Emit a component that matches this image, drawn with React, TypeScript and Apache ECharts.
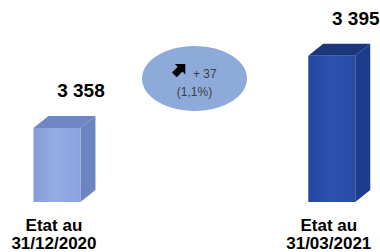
import React, { useEffect, useRef } from "react";
import * as echarts from "echarts";

const categories = ["Etat au\n31/12/2020", "Etat au\n31/03/2021"];
const values = [3358, 3395];
const positions = [0, 1];
const Y_MIN = 3320;
const Y_MAX = 3400;

const FONT = "'Liberation Sans', Arial, sans-serif";

const palettes = [
  { front: ["#849dd8", "#93ace4", "#8ba4de"], top: "#6f87c3", side: "#6c84c0" },
  { front: ["#2346a0", "#2b52ae", "#284ca6"], top: "#1b3679", side: "#1e3c8c" },
];

const fmt = (n: number) => String(n).replace(/\B(?=(\d{3})+(?!\d))/g, " ");

const diff = values[1] - values[0];
const pct = ((diff / values[0]) * 100).toFixed(1).replace(".", ",");

const ARROW_D = "M3 0 L14 0 L14 11 L11 8 L5 14 L0 9 L6 3 Z";

export default function App() {
  const ref = useRef<HTMLDivElement>(null);
  useEffect(() => {
    if (!ref.current) return;
    echarts.graphic.registerShape("arrowNE", echarts.graphic.extendPath(ARROW_D as any, {}) as any);
    const chart = echarts.init(ref.current, null, { renderer: "svg" });
    const data = positions.map((p, i) => [p, values[i]]);
    chart.setOption({
      animation: false,
      backgroundColor: "#ffffff",
      grid: { left: 2, right: 7, top: 46, bottom: 50 },
      xAxis: { type: "value", min: -0.2, max: 1.15, show: false },
      yAxis: { type: "value", min: Y_MIN, max: Y_MAX, show: false },
      graphic: [
        {
          type: "ellipse",
          shape: { cx: 194.5, cy: 78.5, rx: 52.5, ry: 32.5 },
          style: { fill: "#8eaadb" },
        },
        {
          type: "arrowNE",
          x: 172,
          y: 64,
          scaleX: 0.95,
          scaleY: 0.95,
          style: { fill: "#000000" },
        },
        {
          type: "text",
          x: 193,
          y: 73.5,
          style: {
            text: "+ " + diff,
            fill: "#404040",
            font: `12px ${FONT}`,
            verticalAlign: "middle",
            align: "left",
          },
        },
        {
          type: "text",
          x: 194.5,
          y: 91.5,
          style: {
            text: "(" + pct + "%)",
            fill: "#404040",
            font: `12px ${FONT}`,
            verticalAlign: "middle",
            align: "center",
          },
        },
      ],
      series: [
        {
          type: "custom",
          clip: false,
          data,
          renderItem: (params: any, api: any) => {
            const idx = params.dataIndex;
            const x = api.value(0);
            const v = api.value(1);
            const top = api.coord([x, v]);
            const base = api.coord([x, Y_MIN]);
            const w = 47;
            const dx = 15;
            const dy = 12;
            const l = top[0] - w / 2;
            const r = top[0] + w / 2;
            const t = top[1];
            const b = base[1];
            const pal = palettes[idx];
            return {
              type: "group",
              children: [
                {
                  type: "polygon",
                  shape: { points: [[l, t], [l + dx, t - dy], [r + dx, t - dy], [r, t]] },
                  style: { fill: pal.top },
                },
                {
                  type: "polygon",
                  shape: { points: [[r, t], [r + dx, t - dy], [r + dx, b - dy], [r, b]] },
                  style: { fill: pal.side },
                },
                {
                  type: "rect",
                  shape: { x: l, y: t, width: w, height: b - t },
                  style: {
                    fill: new echarts.graphic.LinearGradient(0, 0, 1, 0, [
                      { offset: 0, color: pal.front[0] },
                      { offset: 0.45, color: pal.front[1] },
                      { offset: 1, color: pal.front[2] },
                    ]),
                  },
                },
                {
                  type: "text",
                  x: top[0] + 24,
                  y: t - 37.5,
                  style: {
                    text: fmt(values[idx]),
                    fill: "#000000",
                    font: `bold 19px ${FONT}`,
                    align: "center",
                    verticalAlign: "middle",
                  },
                },
                {
                  type: "text",
                  x: top[0] - 3,
                  y: 234.5,
                  style: {
                    text: categories[idx],
                    fill: "#000000",
                    font: `bold 17px ${FONT}`,
                    lineHeight: 17.5,
                    align: "center",
                    verticalAlign: "middle",
                  },
                },
              ],
            };
          },
        },
      ],
    });
    return () => chart.dispose();
  }, []);
  return <div ref={ref} style={{ width: 380, height: 252, position: "absolute", left: 0, top: 0 }} />;
}
